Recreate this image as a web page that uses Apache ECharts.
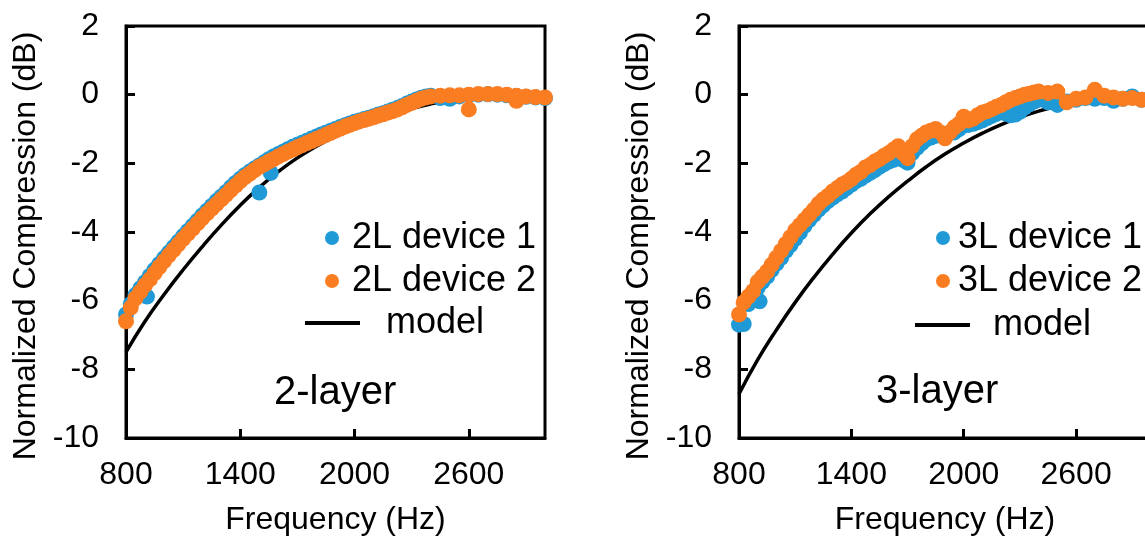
<!DOCTYPE html>
<html><head><meta charset="utf-8">
<script src="https://cdn.jsdelivr.net/npm/echarts@6/dist/echarts.min.js"></script>
<style>html,body{margin:0;padding:0;background:#fff}#c{width:1145px;height:538px}</style>
</head><body><div id="c"></div>
<script>
// Measured frequencies (Hz)
const freq = [800,825,850,875,900,925,950,975,1000,1025,1050,1075,1100,1125,1150,1175,
  1200,1225,1250,1275,1300,1325,1350,1375,1400,1425,1450,1475,1500,1525,1550,1575,
  1600,1625,1650,1675,1700,1725,1750,1775,1800,1825,1850,1875,1900,1925,1950,1975,
  2000,2025,2050,2075,2100,2125,2150,2175,2200,2225,2250,2275,2300,2325,2350,2375,2400,
  2450,2500,2550,2600,2650,2700,2750,2800,2850,2900,2950,3000];
// 2-layer devices (dB)
const dev1_2L = [-6.4,-6.1,-5.83,-5.64,-5.46,-5.28,-5.1,-4.93,-4.76,-4.6,-4.44,-4.28,-4.12,-3.97,-3.82,-3.67,
  -3.52,-3.38,-3.24,-3.1,-2.97,-2.84,-2.7,-2.57,-2.45,-2.34,-2.24,-2.15,-2.06,-1.97,-1.88,-1.8,
  -1.73,-1.66,-1.59,-1.52,-1.46,-1.4,-1.34,-1.28,-1.22,-1.16,-1.11,-1.05,-1.0,-0.94,-0.89,-0.84,
  -0.79,-0.75,-0.71,-0.67,-0.63,-0.58,-0.54,-0.49,-0.44,-0.39,-0.33,-0.26,-0.2,-0.14,-0.09,-0.05,-0.03,
  -0.1,-0.12,-0.05,-0.02,0.0,0.01,0.0,-0.02,-0.04,-0.06,-0.08,-0.1];
const dev2_2L = [-6.6,-6.2,-5.93,-5.74,-5.55,-5.38,-5.2,-5.02,-4.85,-4.68,-4.52,-4.36,-4.2,-4.05,-3.9,-3.75,
  -3.6,-3.46,-3.32,-3.19,-3.05,-2.92,-2.78,-2.65,-2.52,-2.4,-2.3,-2.2,-2.1,-2.03,-1.95,-1.88,
  -1.8,-1.73,-1.66,-1.6,-1.53,-1.47,-1.41,-1.35,-1.29,-1.23,-1.17,-1.11,-1.05,-0.99,-0.93,-0.88,
  -0.83,-0.78,-0.74,-0.7,-0.66,-0.61,-0.57,-0.52,-0.48,-0.43,-0.37,-0.3,-0.24,-0.18,-0.12,-0.08,-0.05,
  -0.03,-0.02,-0.02,0.0,0.02,0.02,0.02,0.0,-0.03,-0.05,-0.07,-0.08];
const dev1_2L_extraFreq = [910,1500,1560];
const dev1_2L_extraVal = [-5.88,-2.85,-2.28];
const dev2_2L_extraFreq = [2600,2850];
const dev2_2L_extraVal = [-0.43,-0.18];
// 3-layer devices (dB)
const dev1_3L = [-6.7,-6.68,-6.1,-5.85,-5.62,-5.45,-5.3,-5.1,-4.92,-4.75,-4.55,-4.38,-4.2,-4.02,-3.82,-3.65,
  -3.5,-3.35,-3.22,-3.1,-3.0,-2.9,-2.82,-2.72,-2.62,-2.52,-2.45,-2.36,-2.28,-2.2,-2.1,-2.02,
  -1.95,-1.9,-1.85,-1.9,-1.98,-1.7,-1.55,-1.42,-1.3,-1.25,-1.2,-1.18,-1.15,-1.12,-1.1,-1.0,
  -0.9,-0.88,-0.85,-0.8,-0.75,-0.68,-0.62,-0.56,-0.5,-0.55,-0.6,-0.58,-0.5,-0.38,-0.28,-0.2,-0.15,
  -0.22,-0.3,-0.2,-0.15,-0.1,-0.12,-0.1,-0.18,-0.12,-0.05,-0.15,-0.12];
const dev2_3L = [-6.4,-6.05,-5.88,-5.72,-5.45,-5.3,-5.15,-4.95,-4.75,-4.55,-4.35,-4.15,-3.95,-3.8,-3.65,-3.5,
  -3.35,-3.18,-3.05,-2.95,-2.82,-2.72,-2.62,-2.55,-2.45,-2.33,-2.25,-2.12,-2.05,-1.95,-1.88,-1.78,
  -1.7,-1.6,-1.5,-1.7,-1.85,-1.5,-1.3,-1.2,-1.1,-1.05,-1.0,-1.1,-1.27,-1.1,-0.95,-0.85,
  -0.64,-0.75,-0.7,-0.6,-0.52,-0.48,-0.42,-0.35,-0.3,-0.22,-0.15,-0.1,-0.05,0.0,0.03,0.06,0.09,
  0.05,0.09,-0.22,-0.12,-0.08,0.14,-0.03,-0.08,-0.12,-0.1,-0.15,-0.15];
const dev1_3L_extraFreq = [910];
const dev1_3L_extraVal = [-6.02];
// Models
const modelFreq = [800,900,1000,1100,1200,1300,1400,1500,1600,1700,1800,1900,2000,2100,2200,2300,2400,2500,2600,2700,2800,2900,3000];
const model2L = [-7.5,-6.6,-5.82,-5.1,-4.43,-3.8,-3.22,-2.7,-2.24,-1.84,-1.5,-1.21,-0.96,-0.75,-0.57,-0.41,-0.27,-0.16,-0.08,-0.04,-0.03,-0.04,-0.05];
const model3L = [-8.72,-7.72,-6.85,-6.05,-5.32,-4.65,-4.03,-3.47,-2.97,-2.52,-2.1,-1.73,-1.41,-1.12,-0.87,-0.66,-0.48,-0.33,-0.2,-0.13,-0.1,-0.1,-0.1];
const xTicks = {min:800, max:3000, interval:600};
const yTicks = {min:-10, max:2, interval:2};

const zip = (xs, ys) => xs.map((x,i)=>[x, ys[i]]);
const BLUE = '#1f9ad6', ORANGE = '#fb7d22';
const FONT = 'Liberation Sans, Arial, sans-serif';
const plain = v => String(v);

const gridLefts = [126, 739];
const grids = gridLefts.map((l,i)=>({left:l, top:26, width: i===0?419:412, height:412, show:true,
  borderColor:'#000', borderWidth:3, backgroundColor:'rgba(0,0,0,0)', containLabel:false, outerBoundsMode:'none'}));
const xAxes = [0,1].map(i=>({type:'value', gridIndex:i, min:xTicks.min, max:xTicks.max, interval:xTicks.interval,
  axisLine:{show:true, onZero:false, lineStyle:{color:'#000', width:3}},
  axisTick:{show:true, inside:true, length:9, lineStyle:{color:'#000', width:3}},
  axisLabel:{color:'#000', fontSize:32, fontFamily:FONT, margin:21, showMaxLabel:false, showMinLabel:true, formatter:plain},
  splitLine:{show:false},
  name:'Frequency (Hz)', nameLocation:'middle', nameGap:66, nameMoveOverlap:false,
  nameTextStyle:{fontSize:32, color:'#000', fontFamily:FONT}}));
const yAxes = [0,1].map(i=>({type:'value', gridIndex:i, min:yTicks.min, max:yTicks.max, interval:yTicks.interval,
  axisLine:{show:true, onZero:false, lineStyle:{color:'#000', width:3}},
  axisTick:{show:true, inside:true, length:9, lineStyle:{color:'#000', width:3}},
  axisLabel:{color:'#000', fontSize:32, fontFamily:FONT, margin:27, formatter:plain},
  splitLine:{show:false},
  name:'Normalized Compression (dB)', nameLocation:'middle', nameGap:84, nameMoveOverlap:false,
  nameTextStyle:{fontSize:32, color:'#000', fontFamily:FONT, padding:[0,28,0,0]}}));

function panel(i, names, d1, d2, e1, e2, model){
  return [
    {name:'model', type:'line', xAxisIndex:i, yAxisIndex:i, data:zip(modelFreq, model), smooth:true,
     symbol:'none', lineStyle:{color:'#000', width:3.5}, itemStyle:{color:'#000'}, z:2, silent:true},
    {name:names[0], type:'scatter', xAxisIndex:i, yAxisIndex:i, data:zip(freq,d1).concat(e1),
     symbolSize:16, itemStyle:{color:BLUE, opacity:1}, z:3, silent:true},
    {name:names[1], type:'scatter', xAxisIndex:i, yAxisIndex:i, data:zip(freq,d2).concat(e2),
     symbolSize:16, itemStyle:{color:ORANGE, opacity:1}, z:4, silent:true}
  ];
}
const series = [].concat(
  panel(0, ['2L device 1','2L device 2'], dev1_2L, dev2_2L, zip(dev1_2L_extraFreq, dev1_2L_extraVal), zip(dev2_2L_extraFreq, dev2_2L_extraVal), model2L),
  panel(1, ['3L device 1','3L device 2'], dev1_3L, dev2_3L, zip(dev1_3L_extraFreq, dev1_3L_extraVal), [], model3L)
);

const legTxt = (pad)=>({fontSize:36, color:'#000', fontFamily:FONT, padding:[0,0,0,pad]});
const legends = [
  {data:['2L device 1','2L device 2'], left:325, top:220, orient:'vertical', icon:'circle', itemWidth:14, itemHeight:14, itemGap:7, padding:0, selectedMode:false, textStyle:legTxt(8)},
  {data:[{name:'model', icon:'rect'}], left:305, top:305, itemWidth:55, itemHeight:4, padding:0, selectedMode:false, textStyle:legTxt(21), itemStyle:{color:'#000'}},
  {data:['3L device 1','3L device 2'], left:936, top:220, orient:'vertical', icon:'circle', itemWidth:14, itemHeight:14, itemGap:7, padding:0, selectedMode:false, textStyle:legTxt(3)},
  {data:[{name:'model', icon:'rect'}], left:915, top:307, itemWidth:55, itemHeight:4, padding:0, selectedMode:false, textStyle:legTxt(18), itemStyle:{color:'#000'}}
];
const titles = [
  {text:'2-layer', left:274, top:373, padding:0, textStyle:{fontSize:40, fontWeight:'normal', color:'#000', fontFamily:FONT}},
  {text:'3-layer', left:876, top:372, padding:0, textStyle:{fontSize:40, fontWeight:'normal', color:'#000', fontFamily:FONT}}
];

const chart = echarts.init(document.getElementById('c'), null, {renderer:'canvas'});
chart.setOption({
  animation:false, backgroundColor:'#fff',
  textStyle:{fontFamily:FONT, color:'#000'},
  title:titles, legend:legends, grid:grids, xAxis:xAxes, yAxis:yAxes, series:series, tooltip:{show:false}
});
</script></body></html>
